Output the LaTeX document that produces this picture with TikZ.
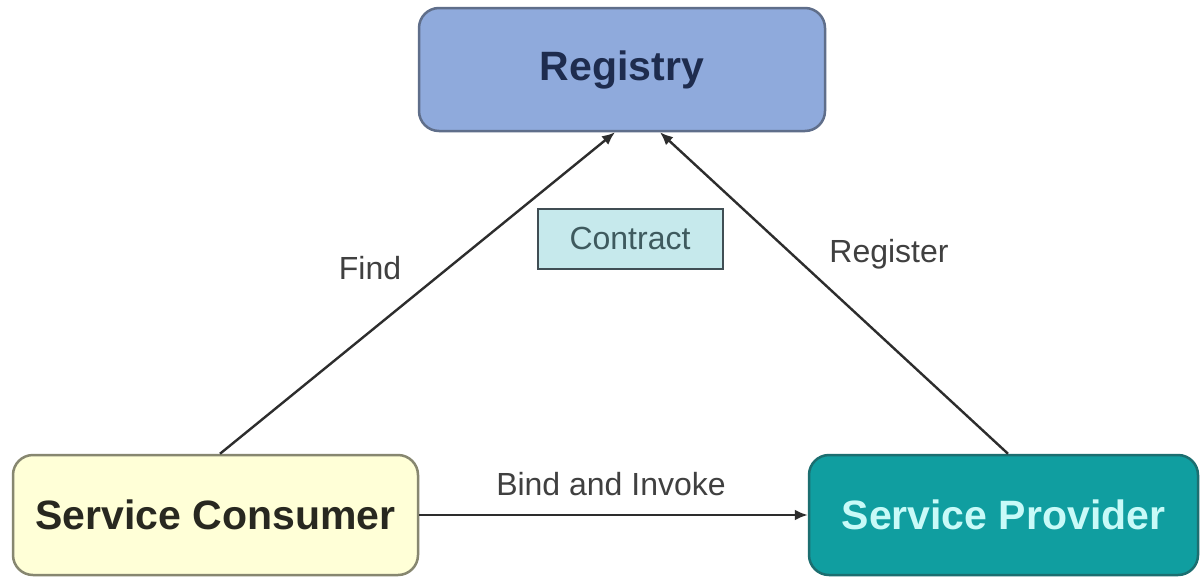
\documentclass[tikz,border=0pt]{standalone}
\usepackage{fontspec}
\setmainfont{Liberation Sans}
\usetikzlibrary{arrows.meta}
\definecolor{regfill}{RGB}{143,170,220}
\definecolor{regline}{RGB}{95,110,138}
\definecolor{regtext}{RGB}{30,44,78}
\definecolor{confill}{RGB}{255,255,215}
\definecolor{conline}{RGB}{135,135,112}
\definecolor{context}{RGB}{40,40,32}
\definecolor{profill}{RGB}{16,158,160}
\definecolor{proline}{RGB}{28,110,112}
\definecolor{protext}{RGB}{200,250,248}
\definecolor{ctrfill}{RGB}{198,233,236}
\definecolor{ctrline}{RGB}{64,78,84}
\definecolor{ctrtext}{RGB}{62,90,94}
\definecolor{wire}{RGB}{45,45,45}
\begin{document}
\begin{tikzpicture}[x=1pt,y=-1pt,
  bigbox/.style={draw, line width=2.5pt, rounded corners=20pt, inner sep=0pt,
    font=\fontsize{41}{48}\selectfont\bfseries},
  flow/.style={draw=wire, line width=2.4pt, -{Latex[length=13pt,width=11pt]}},
  lbl/.style={font=\fontsize{32}{38}\selectfont, text=black!75}]
\useasboundingbox (0,0) rectangle (1201,579);
\fill[white] (0,0) rectangle (1201,579);
% the three parties
\node[bigbox, fill=regfill, draw=regline, text=regtext,
  minimum width=406pt, minimum height=123pt] (reg) at (622,69.5) {\raisebox{-4pt}{Registry}};
\node[bigbox, fill=confill, draw=conline, text=context,
  minimum width=405pt, minimum height=120pt] (cons) at (215.5,515) {\raisebox{-2pt}{Service Consumer}};
\node[bigbox, fill=profill, draw=proline, text=protext,
  minimum width=389pt, minimum height=120pt] (prov) at (1003.5,515) {\raisebox{-2pt}{Service Provider}};
% the contract between them
\node[draw=ctrline, fill=ctrfill, line width=2pt, text=ctrtext, inner sep=0pt,
  minimum width=185pt, minimum height=60pt,
  font=\fontsize{32}{38}\selectfont] (ctr) at (630,238.5) {Contract};
% interactions
\draw[flow] ([xshift=4.5pt]cons.north) -- ([xshift=-7pt]reg.south);
\draw[flow] ([xshift=4.5pt]prov.north) -- ([xshift=38pt]reg.south);
\draw[flow] (cons.east) -- (prov.west);
% labels
\node[lbl] (lfind) at (370,268) {Find};
\node[lbl] (lreg) at (889,254) {Register};
\node[lbl] (lbind) at (611,484) {Bind and Invoke};
\end{tikzpicture}
\end{document}
